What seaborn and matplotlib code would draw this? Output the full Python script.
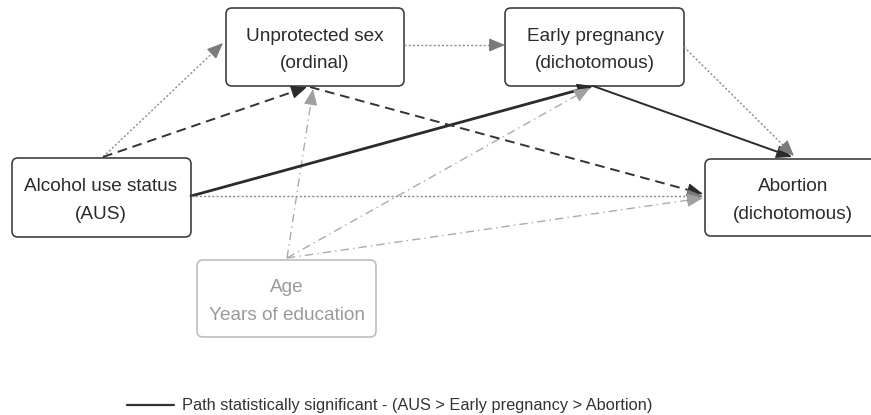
import matplotlib
matplotlib.use("Agg")
import numpy as np
import matplotlib.pyplot as plt
import seaborn as sns
from matplotlib.patches import FancyBboxPatch

# Node labels and box extents (pixel space of the original diagram)
node_names = ["sex", "preg", "abort", "aus", "cov"]
node_labels = ["Unprotected sex\n(ordinal)", "Early pregnancy\n(dichotomous)",
               "Abortion\n(dichotomous)", "Alcohol use status\n(AUS)",
               "Age\nYears of education"]
node_x0 = [226, 505, 705, 12, 197]
node_x1 = [404, 684, 880, 191, 376]
node_y0 = [8, 8, 159, 158, 260]
node_y1 = [86, 86, 236, 237, 337]
label_x = [315, 595, 793, 101, 287]

# Paths: start point, end point, style
edge_start = [(103, 157), (103, 157), (287, 258), (404, 45), (191, 196), (287, 258),
              (593, 86), (684, 47), (310, 87), (191, 196), (287, 258)]
edge_end = [(223, 43), (307, 87), (313, 89), (505, 45), (593, 86), (590, 88),
            (792, 157), (794, 156), (703, 194), (703, 196), (703, 198)]
edge_kind = ["dotted", "dashed", "dashdot", "dotted", "solid_bold", "dashdot",
             "solid", "dotted", "dashed", "dotted", "dashdot"]

legend_text = "Path statistically significant - (AUS > Early pregnancy > Abortion)"

styles = {
    "dotted": dict(color="#8a8a8a", head="#7a7a7a", lw=1.0, ls=(0, (1.5, 1.5))),
    "dashed": dict(color="#333333", head="#2b2b2b", lw=1.4, ls=(0, (5, 3))),
    "dashdot": dict(color="#ababab", head="#a0a0a0", lw=1.0, ls=(0, (6, 3, 1, 3))),
    "solid_bold": dict(color="#2b2b2b", head="#2b2b2b", lw=2.0, ls="-"),
    "solid": dict(color="#2b2b2b", head="#2b2b2b", lw=1.4, ls="-"),
}

sns.set_style("white")
plt.rcParams["font.family"] = ["Liberation Sans", "DejaVu Sans"]

fig = plt.figure(figsize=(8.71, 4.15), dpi=100)
ax = fig.add_axes([0, 0, 1, 1])
ax.set_xlim(0, 871)
ax.set_ylim(415, 0)
ax.axis("off")

# Boxes
for name, lab, x0, x1, y0, y1, lx in zip(node_names, node_labels, node_x0, node_x1,
                                         node_y0, node_y1, label_x):
    light = name == "cov"
    box = FancyBboxPatch((x0 + 6, y0 + 6), x1 - x0 - 12, y1 - y0 - 12,
                         boxstyle="round,pad=6", fc="white",
                         ec="#bdbdbd" if light else "#404040", lw=1.2, zorder=3)
    ax.add_patch(box)
    ax.text(lx, (y0 + y1) / 2 + 3, lab, ha="center", va="center", fontsize=13.7,
            color="#9a9a9a" if light else "#2b2b2b", linespacing=1.8, zorder=4)

# Arrows: styled shaft, then a solid filled head
for (sx, sy), (ex, ey), kind in zip(edge_start, edge_end, edge_kind):
    st = styles[kind]
    d = np.array([ex - sx, ey - sy], dtype=float)
    u = d / np.hypot(*d)
    bx, by = ex - 9 * u[0], ey - 9 * u[1]
    ax.plot([sx, bx], [sy, by], color=st["color"], lw=st["lw"], ls=st["ls"], zorder=5)
    ax.annotate("", xy=(ex, ey), xytext=(ex - 3 * u[0], ey - 3 * u[1]), zorder=6,
                arrowprops=dict(arrowstyle="-|>,head_length=1.0,head_width=0.42",
                                color=st["head"], lw=0.8, shrinkA=0, shrinkB=0))

# Legend line
sns.lineplot(x=[127, 174], y=[405, 405], color="#333333", lw=1.6, ax=ax)
ax.text(182, 405, legend_text, ha="left", va="center", fontsize=11.8, color="#333333")

fig.savefig("out.png", dpi=100)
